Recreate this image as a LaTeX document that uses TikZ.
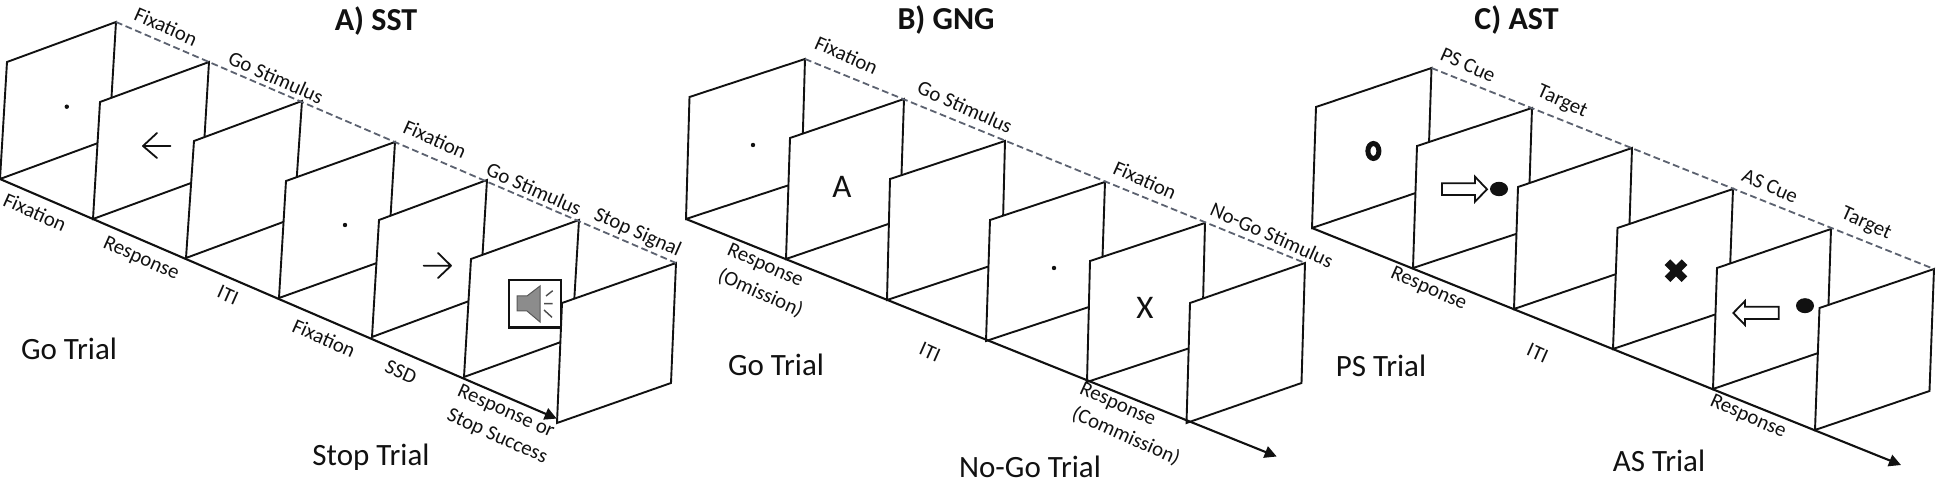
\documentclass[tikz,border=0pt]{standalone}
\usepackage{fontspec}
\setmainfont{Carlito}
\usetikzlibrary{calc,arrows.meta}
\definecolor{ink}{HTML}{111111}
\definecolor{dashc}{HTML}{5C6270}
\definecolor{spk}{HTML}{8C8C8C}
\tikzset{
  pane/.style={draw=ink,fill=white,line width=0.95pt,line join=miter},
  axisl/.style={draw=ink,line width=1.05pt,-{Triangle[length=6pt,width=6pt]}},
  dashl/.style={draw=dashc,line width=0.9pt,dash pattern=on 3.4pt off 1.8pt},
  lab/.style={font=\fontsize{10.4}{12}\selectfont,text=ink,rotate=-24,inner sep=0pt},
  trial/.style={font=\fontsize{15.5}{18}\selectfont,text=ink,inner sep=0pt},
  ttl/.style={font=\fontsize{16}{18}\selectfont\bfseries,text=ink,inner sep=0pt},
  stim/.style={font=\fontsize{16.5}{18}\selectfont,text=ink,inner sep=0pt},
  thinarrow/.style={draw=ink,line width=0.9pt,line cap=round,line join=round},
  outarrow/.style={draw=ink,fill=white,line width=0.9pt,line join=miter},
}
\newcommand{\frm}[3]{\draw[pane] (#1) -- (#2) -- (#3) -- ($(#1)+(#3)-(#2)$) -- cycle;}
\begin{document}
\begin{tikzpicture}[x=0.5pt,y=-0.5pt]
\useasboundingbox (0,0) rectangle (1940,480);
% ---------- panel A
\frm{0,179}{7,62}{116,22}
\frm{93,219}{100,102}{209,62}
\frm{186,258}{194,141}{302,101}
\frm{279,298}{286,181}{395,142}
\frm{372,337}{379,220}{487,180}
\frm{464,377}{471,259}{579,220}
\frm{557,423}{562,303}{676,263}
\coordinate (aS) at (0,179); \coordinate (aE) at (556.7,418.6);
\coordinate (aT) at (116,22); \coordinate (aU) at (676,263);
\draw[axisl] (aS) -- (aE);
\draw[dashl] (aT) -- (aU);
\fill[ink] (66.8,106.7) circle (2.2);
\fill[ink] (345,225) circle (2.2);
\draw[thinarrow] (170.4,146) -- (143,146) (157,133) -- (143,146) -- (157,158);
\draw[thinarrow] (423.7,265.7) -- (451,265.7) (438,253) -- (451,265.7) -- (438,278);
% speaker
\draw[draw=ink,fill=white,line width=1.1pt] (509,280) rectangle (560.7,327.5);
\draw[draw=ink!70,fill=spk,line width=0.5pt] (517,296) -- (527,296) -- (540,286) -- (540,322) -- (527,311) -- (517,311) -- cycle;
\draw[ink!75,line width=0.7pt] (546,296) -- (552.7,290.7) (544,303.7) -- (552.7,303.7) (544,310) -- (552,317.3);
\node[lab] (a1) at (166,26.5) {Fixation};
\node[lab] (a2) at (276,77.5) {Go Stimulus};
\node[lab] (a3) at (435,139) {Fixation};
\node[lab] (a4) at (534,189) {Go Stimulus};
\node[lab] (a5) at (637.5,233) {Stop Signal};
\node[lab] (a6) at (35,212) {Fixation};
\node[lab] (a7) at (141,259) {Response};
\node[lab] (a8) at (228,295) {ITI};
\node[lab] (a9) at (324,338) {Fixation};
\node[lab] (a10) at (401,372) {SSD};
\node[lab] (a11) at (505.8,412) {Response or};
\node[lab] (a12) at (497,437) {Stop Success};
\node[trial] (a13) at (69,349) {Go Trial};
\node[trial] (a14) at (371,457) {Stop Trial};
\node[ttl] (a15) at (376,21) {A) SST};
% ---------- panel B
\frm{686,219}{689.5,97}{805,59}
\frm{786,259}{790,138}{904,99}
\frm{887,300}{890,179}{1005,141}
\frm{986,341}{990,220}{1105,182}
\frm{1087,382}{1090,261}{1205,223}
\frm{1186.5,423}{1190,303}{1305,263}
\coordinate (bS) at (686,219); \coordinate (bE) at (1276.7,456.5);
\coordinate (bT) at (805,59); \coordinate (bU) at (1305,263);
\draw[axisl] (bS) -- (bE);
\draw[dashl] (bT) -- (bU);
\fill[ink] (753,145) circle (2.2);
\fill[ink] (1054,268) circle (2.2);
\node[stim] (bA) at (842,187) {A};
\node[stim] (bX) at (1145,308) {X};
\node[lab] (b1) at (846.5,55) {Fixation};
\node[lab] (b2) at (965,107) {Go Stimulus};
\node[lab] (b3) at (1145,180) {Fixation};
\node[lab] (b4) at (1272,235) {No-Go Stimulus};
\node[lab] (b5) at (765,266) {Response};
\node[lab] (b6) at (760.6,293) {(Omission)};
\node[lab] (b7) at (930,352) {ITI};
\node[lab] (b8) at (1117.5,405) {Response};
\node[lab] (b9) at (1126,436) {(Commission)};
\node[trial] (b10) at (776,365) {Go Trial};
\node[trial] (b11) at (1030,467) {No-Go Trial};
\node[ttl] (b12) at (946,20) {B) GNG};
% ---------- panel C
\frm{1312,228}{1316,107}{1431.5,68}
\frm{1413,268}{1417,146}{1532,108}
\frm{1514,309}{1518,187}{1632,148}
\frm{1613,349}{1617.5,228}{1733,189}
\frm{1713,389}{1717,268}{1831,229}
\frm{1815,430}{1819.5,308}{1934,269}
\coordinate (cS) at (1312,228); \coordinate (cE) at (1901,465);
\coordinate (cT) at (1431.5,68); \coordinate (cU) at (1934,269);
\draw[axisl] (cS) -- (cE);
\draw[dashl] (cT) -- (cU);
\draw[ink,line width=2.5pt] (1373.4,151) ellipse (5.5 and 7.5);
\draw[outarrow] (1442,183.3) -- (1475,183.3) -- (1475,176.7) -- (1487,189.3) -- (1475,201.7) -- (1475,195) -- (1442,195) -- cycle;
\fill[ink] (1499,189) ellipse (9 and 7.2);
\draw[ink,line width=4pt] (1667.5,262.2) -- (1684.5,279.2) (1684.5,262.2) -- (1667.5,279.2);
\draw[outarrow] (1778.7,306.7) -- (1745,306.7) -- (1745,301) -- (1733.3,313) -- (1745,325) -- (1745,319) -- (1778.7,319) -- cycle;
\fill[ink] (1805,305.7) ellipse (9 and 7.5);
\node[lab] (c1) at (1468,65) {PS Cue};
\node[lab] (c2) at (1562,102) {Target};
\node[lab] (c3) at (1770,186) {AS Cue};
\node[lab] (c4) at (1866,224) {Target};
\node[lab] (c5) at (1428.6,289) {Response};
\node[lab] (c6) at (1537.6,353) {ITI};
\node[lab] (c7) at (1748,417) {Response};
\node[trial] (c8) at (1381,366) {PS Trial};
\node[trial] (c9) at (1659,461) {AS Trial};
\node[ttl] (c10) at (1516.5,20) {C) AST};
\end{tikzpicture}
\end{document}
